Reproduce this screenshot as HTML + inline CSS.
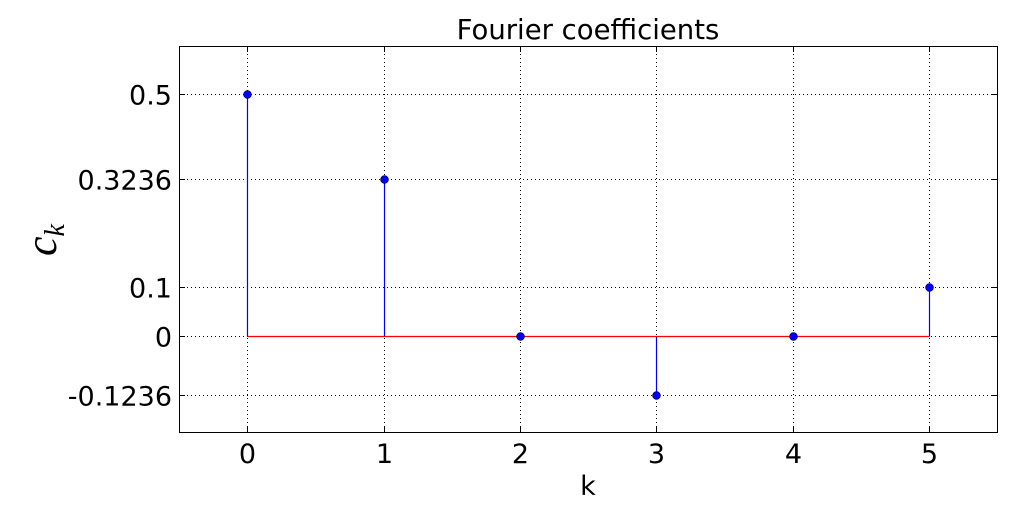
<!DOCTYPE html>
<html><head><meta charset="utf-8"><style>
html,body{margin:0;padding:0;background:#fff;}
svg text{font-family:"DejaVu Sans","Liberation Sans",sans-serif;}
svg text.math{font-family:"Liberation Serif","DejaVu Serif",serif;font-style:italic;}
</style></head><body>
<svg id="chart" width="1015" height="515" xmlns="http://www.w3.org/2000/svg">
<rect width="1015" height="515" fill="#fff"/>
<g id="grid"></g>
<g id="marks"></g>
<rect x="179.5" y="46.5" width="818" height="386" fill="none" stroke="#000" stroke-width="1"/>
<g id="xt"></g>
<g id="yt"></g>
<text x="588" y="39" font-size="27.5" text-anchor="middle">Fourier coefficients</text>
<text x="588" y="495" font-size="27" text-anchor="middle">k</text>
<text class="math" transform="translate(56,240) rotate(-90)" font-size="44" text-anchor="middle">c<tspan font-size="28" dy="8">k</tspan></text>
</svg>
<script>
const categories=[0,1,2,3,4,5];
const values=[0.5,0.3236,0,-0.1236,0,0.1];
const yTicks=[0.5,0.3236,0.1,0,-0.1236];
const yTickLabels=["0.5","0.3236","0.1","0","-0.1236"];
const xTickLabels=["0","1","2","3","4","5"];
const X0=179,X1=997,Y0=46,Y1=432,xmin=-0.5,xmax=5.5,ymin=-0.2,ymax=0.6;
const sx=v=>Math.round(X0+(v-xmin)/(xmax-xmin)*(X1-X0))+0.5;
const sy=v=>Math.round(Y1-(v-ymin)/(ymax-ymin)*(Y1-Y0))+0.5;
const NS="http://www.w3.org/2000/svg";
function mk(t,a,p){const e=document.createElementNS(NS,t);for(const k in a)e.setAttribute(k,a[k]);p.appendChild(e);return e;}
const grid=document.getElementById('grid'),marks=document.getElementById('marks'),xt=document.getElementById('xt'),yt=document.getElementById('yt');
categories.forEach((c,i)=>{
 const x=sx(c);
 let g=mk('line',{x1:x,x2:x,y1:Y0,y2:Y1,stroke:'#000','stroke-dasharray':'1,3','stroke-width':1},grid);
 
 let t=mk('line',{x1:x,x2:x,y1:Y1,y2:Y1-6,stroke:'#000'},xt);
 
 let t2=mk('line',{x1:x,x2:x,y1:Y0,y2:Y0+6,stroke:'#000'},xt);
 
 let l=mk('text',{x:x,y:463,'font-size':27,'text-anchor':'middle'},xt);l.textContent=xTickLabels[i];
 
});
yTicks.forEach((v,i)=>{
 const y=sy(v);
 let g=mk('line',{x1:X0,x2:X1,y1:y,y2:y,stroke:'#000','stroke-dasharray':'1,3','stroke-width':1},grid);
 
 let t=mk('line',{x1:X0,x2:X0+6,y1:y,y2:y,stroke:'#000'},yt);
 
 let t2=mk('line',{x1:X1,x2:X1-6,y1:y,y2:y,stroke:'#000'},yt);
 
 let l=mk('text',{x:172,y:y+10,'font-size':27,'text-anchor':'end'},yt);l.textContent=yTickLabels[i];
 
});
categories.forEach((c,i)=>{
 let s=mk('line',{x1:sx(c),x2:sx(c),y1:sy(0),y2:sy(values[i]),stroke:'#0000ff','stroke-width':1.2},marks);
 
});
let base=mk('line',{x1:sx(categories[0]),x2:sx(categories[categories.length-1]),y1:sy(0),y2:sy(0),stroke:'#ff0000','stroke-width':1.2},marks);

categories.forEach((c,i)=>{
 let m=mk('circle',{cx:sx(c),cy:sy(values[i]),r:4,fill:'#0000ff',stroke:'#000','stroke-width':0.5},marks);
 
});
</script>
</body></html>
